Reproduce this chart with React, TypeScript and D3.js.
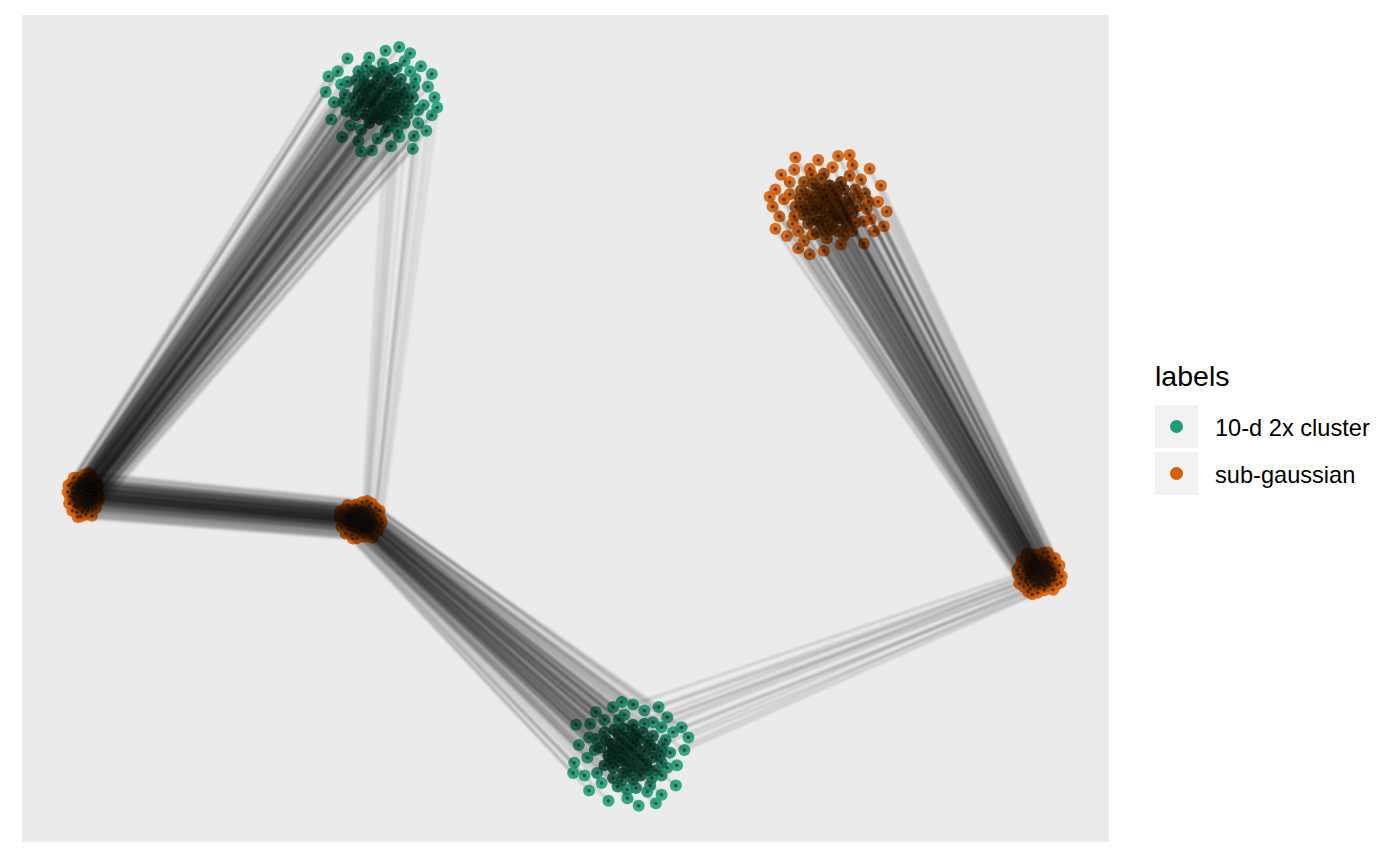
import React from 'react';
import * as d3 from 'd3';

// cluster centres (embedding units) and their spread
const clusterIds = ['g1', 'o1', 'o2', 'o3', 'g2', 'o4'];
const clusterLabel = ['10-d 2x cluster', 'sub-gaussian', 'sub-gaussian', 'sub-gaussian', '10-d 2x cluster', 'sub-gaussian'];
const clusterX = [-3.41, 4.86, -8.88, -3.78, 1.19, 8.73];
const clusterY = [6.36, 4.34, -1.29, -1.77, -6.32, -2.8];
const clusterSpreadX = [1.0, -1.05, 0.28, 0.38, 1.05, -0.4];
const clusterSpreadY = [1.0, -0.95, 0.42, 0.36, 0.98, -0.4];
const clusterSwapAxes = [false, false, false, false, true, false];

// per-sample offset within a cluster (same sample index in every cluster)
const unitOffsets: [number, number][] = [
  [0.02, -0.05], [0.18, 0.1], [-0.22, 0.08], [0.1, -0.3], [-0.12, -0.2], [0.35, -0.05], [-0.35, -0.12], [0.28, 0.3],
  [-0.05, 0.38], [-0.3, 0.32], [0.45, 0.22], [0.5, -0.28], [-0.48, 0.05], [-0.2, -0.45], [0.15, -0.52], [0.0, 0.15],
  [0.6, 0.05], [-0.62, -0.22], [0.22, 0.58], [-0.4, 0.55], [0.65, 0.4], [0.7, -0.45], [-0.72, 0.3], [-0.55, -0.5],
  [0.35, -0.72], [-0.05, -0.75], [0.05, 0.7], [0.8, -0.1], [-0.85, -0.05], [0.45, 0.75], [-0.2, 0.82], [0.88, 0.25],
  [-0.78, 0.55], [0.62, -0.7], [-0.4, -0.8], [0.2, -0.9], [-0.9, -0.38], [0.95, -0.3], [0.75, 0.65], [-0.6, 0.8],
  [0.1, 0.95], [-0.15, -0.98], [1.0, 0.05], [-1.0, 0.15], [0.55, 0.9], [0.85, -0.6], [-0.7, -0.72], [0.4, 0.1],
  [-0.1, -0.1], [0.25, -0.15], [-0.28, 0.2], [0.12, 0.42], [-0.45, -0.3], [0.55, 0.55], [-0.15, 0.55], [0.3, -0.42],
  [0.7, -0.2], [-0.65, 0.1], [0.95, 0.5], [-0.95, 0.45], [0.35, 1.02], [0.6, -0.95], [-0.35, -1.0], [1.05, -0.15],
  [0.08, 0.25], [-0.18, 0.28], [0.3, 0.12], [-0.32, 0.0], [0.05, -0.18], [0.22, -0.32], [-0.25, -0.3], [0.4, -0.2],
  [-0.08, 0.05], [0.15, 0.02], [-0.4, 0.18], [0.38, 0.4], [-0.02, 0.52], [-0.5, -0.15], [0.5, 0.05], [0.0, -0.38],
  [-0.3, 0.45], [0.2, 0.35], [-0.15, -0.35], [0.45, -0.45], [-0.6, 0.35], [0.62, 0.25], [0.1, -0.62], [-0.35, -0.58],
  [0.3, 0.62], [-0.1, 0.22], [0.25, 0.05], [-0.2, -0.05], [0.12, -0.12], [-0.05, -0.28], [0.52, -0.12], [-0.45, 0.38],
  [0.32, -0.6], [-0.68, -0.05], [0.08, 0.55], [-0.25, 0.65],
];

// samples on the rim that feed the two thin bundles
const rimLowerRight = [3, 5, 11, 14, 21, 24, 27, 33, 35, 37, 45, 49, 55, 56, 61, 63];
const rimUpperRight = [10, 16, 18, 20, 26, 29, 31, 38, 40, 42, 44, 53, 58, 60];

// links between clusters: each sample i joins cluster source to target
const linkSource = [0, 2, 0, 3, 4, 5];
const linkTarget = [2, 3, 3, 4, 5, 1];
const linkOpacity = [0.17, 0.14, 0.08, 0.14, 0.13, 0.17];
const linkSamples: (number[] | null)[] = [null, null, rimLowerRight, null, rimUpperRight, null];

const legendLabels = ['10-d 2x cluster', 'sub-gaussian'];
const legendColors = ['#1B9E77', '#D95F02'];

const W = 1400;
const H = 865;
const panel = { left: 22, right: 1109, top: 15, bottom: 842 };

export default function App() {
  const x = d3.scaleLinear().domain([-10, 10]).range([panel.left, panel.right]);
  const y = d3.scaleLinear().domain([-8, 8]).range([panel.bottom, panel.top]);
  const color = d3.scaleOrdinal<string, string>().domain(legendLabels).range(legendColors);
  // points deep inside a cluster sit under many overlapping marks
  const shade = d3.scaleLinear().domain([0.35, 0.75]).range([2.6, 0]).clamp(true);

  const off = (c: number, i: number) => {
    const [a, b] = unitOffsets[i];
    return clusterSwapAxes[c] ? [b, a] : [a, b];
  };
  const px = (c: number, i: number) => x(clusterX[c] + off(c, i)[0] * clusterSpreadX[c]);
  const py = (c: number, i: number) => y(clusterY[c] + off(c, i)[1] * clusterSpreadY[c]);

  const points = clusterIds.flatMap((id, c) =>
    unitOffsets.map((o, i) => {
      const base = d3.color(color(clusterLabel[c]))!;
      const k = shade(Math.hypot(o[0], o[1]));
      return { key: `${id}-${i}`, cx: px(c, i), cy: py(c, i), fill: base.darker(k).formatHex(), k };
    })
  );

  const lines = linkSource.flatMap((s, k) => {
    const t = linkTarget[k];
    const idx = linkSamples[k] ?? unitOffsets.map((_, i) => i);
    return idx.map(i => ({
      key: `l${k}-${i}`,
      x1: px(s, i), y1: py(s, i), x2: px(t, i), y2: py(t, i),
      op: linkOpacity[k],
    }));
  });

  const font = '"Liberation Sans", Arial, Helvetica, sans-serif';

  return (
    <svg width={W} height={H} style={{ position: 'absolute', left: 0, top: 0, background: '#fff' }} fontFamily={font}>
      <defs>
        <filter id="soft" x="-5%" y="-5%" width="110%" height="110%">
          <feGaussianBlur stdDeviation={0.8} />
        </filter>
      </defs>
      <rect x={panel.left} y={panel.top} width={panel.right - panel.left} height={panel.bottom - panel.top} fill="#EBEBEB" />
      <g>
        {[...points].sort((a, b) => a.k - b.k).map(p => (
          <circle key={p.key} cx={p.cx} cy={p.cy} r={6} fill={p.fill} fillOpacity={0.88} />
        ))}
      </g>
      <g stroke="#000" strokeWidth={3} strokeLinecap="round" filter="url(#soft)">
        {lines.map(l => (
          <line key={l.key} x1={l.x1} y1={l.y1} x2={l.x2} y2={l.y2} strokeOpacity={l.op} />
        ))}
      </g>
      <g>
        {points.map(p => (
          <circle key={p.key + 'd'} cx={p.cx} cy={p.cy} r={1.6} fill="#111" fillOpacity={0.6} />
        ))}
      </g>
      <g>
        <text x={1155} y={386} fontSize={28.5} fill="#000">labels</text>
        {legendLabels.map((lab, i) => (
          <g key={lab} transform={`translate(1155,${405 + i * 47})`}>
            <rect width={43} height={43} fill="#F2F2F2" />
            <circle cx={21.5} cy={21.5} r={6.5} fill={color(lab)} />
            <text x={60} y={30.5} fontSize={23.6} fill="#000">{lab}</text>
          </g>
        ))}
      </g>
    </svg>
  );
}
